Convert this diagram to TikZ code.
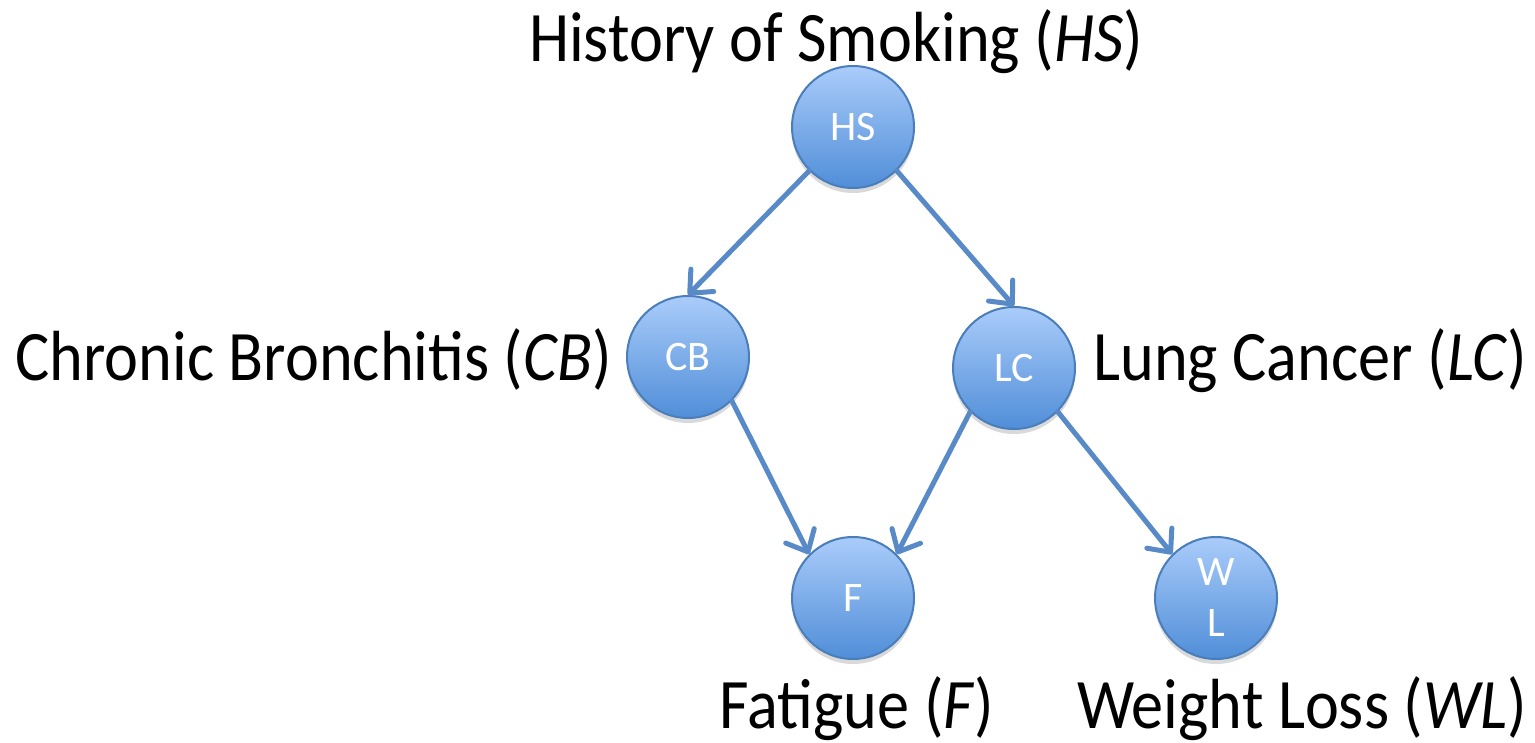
\documentclass[tikz,border=0pt]{standalone}
\usepackage{fontspec}
\setmainfont{Carlito}
\newfontfamily\labelfont{Carlito}[FakeStretch=0.905]
\usetikzlibrary{arrows.meta,shadows}
\definecolor{edgeblue}{RGB}{88,138,200}
\definecolor{rimblue}{RGB}{74,126,187}
\definecolor{topblue}{RGB}{170,204,250}
\definecolor{botblue}{RGB}{80,142,216}
\tikzset{
  bnnode/.style={circle, minimum size=61pt, inner sep=0pt, draw=rimblue, line width=1pt,
    top color=topblue, bottom color=botblue, text=white,
    font=\fontsize{21}{25.5}\selectfont, align=center,
    drop shadow={shadow xshift=0pt, shadow yshift=-2.5pt, opacity=0.25, fill=black!60}},
  bnedge/.style={draw=edgeblue, line width=2.5pt, line cap=round,
    -{Straight Barb[length=9pt,width=16pt,round]}},
  biglabel/.style={font=\labelfont\fontsize{35.5}{40}\selectfont, inner sep=0pt}
}
\begin{document}
\begin{tikzpicture}[x=0.5pt,y=-0.5pt]
\useasboundingbox (0,0) rectangle (1535,743);
\node[bnnode] (HS) at (853,127) {HS};
\node[bnnode] (CB) at (688,357) {CB};
\node[bnnode] (LC) at (1014,368) {LC};
\node[bnnode] (F) at (853,598) {F};
\node[bnnode] (WL) at (1216,598) {W\\L};
\draw[bnedge] (HS.225) -- (CB.north);
\draw[bnedge] (HS.-45) -- (LC.north);
\draw[bnedge] (CB.-45) -- (F.135);
\draw[bnedge] (LC.225) -- (F.45);
\draw[bnedge] (LC.-45) -- (WL.135);
\node[biglabel, anchor=base] (tHS) at (836,62) {History of Smoking (\textit{HS})};
\node[biglabel, anchor=base east] (tCB) at (612,380) {Chronic Bronchitis (\textit{CB})};
\node[biglabel, anchor=base west] (tLC) at (1093,380) {Lung Cancer (\textit{LC})};
\node[biglabel, anchor=base] (tF) at (857,728) {Fatigue (\textit{F})};
\node[biglabel, anchor=base] (tWL) at (1302,728) {Weight Loss (\textit{WL})};
\end{tikzpicture}
\end{document}
